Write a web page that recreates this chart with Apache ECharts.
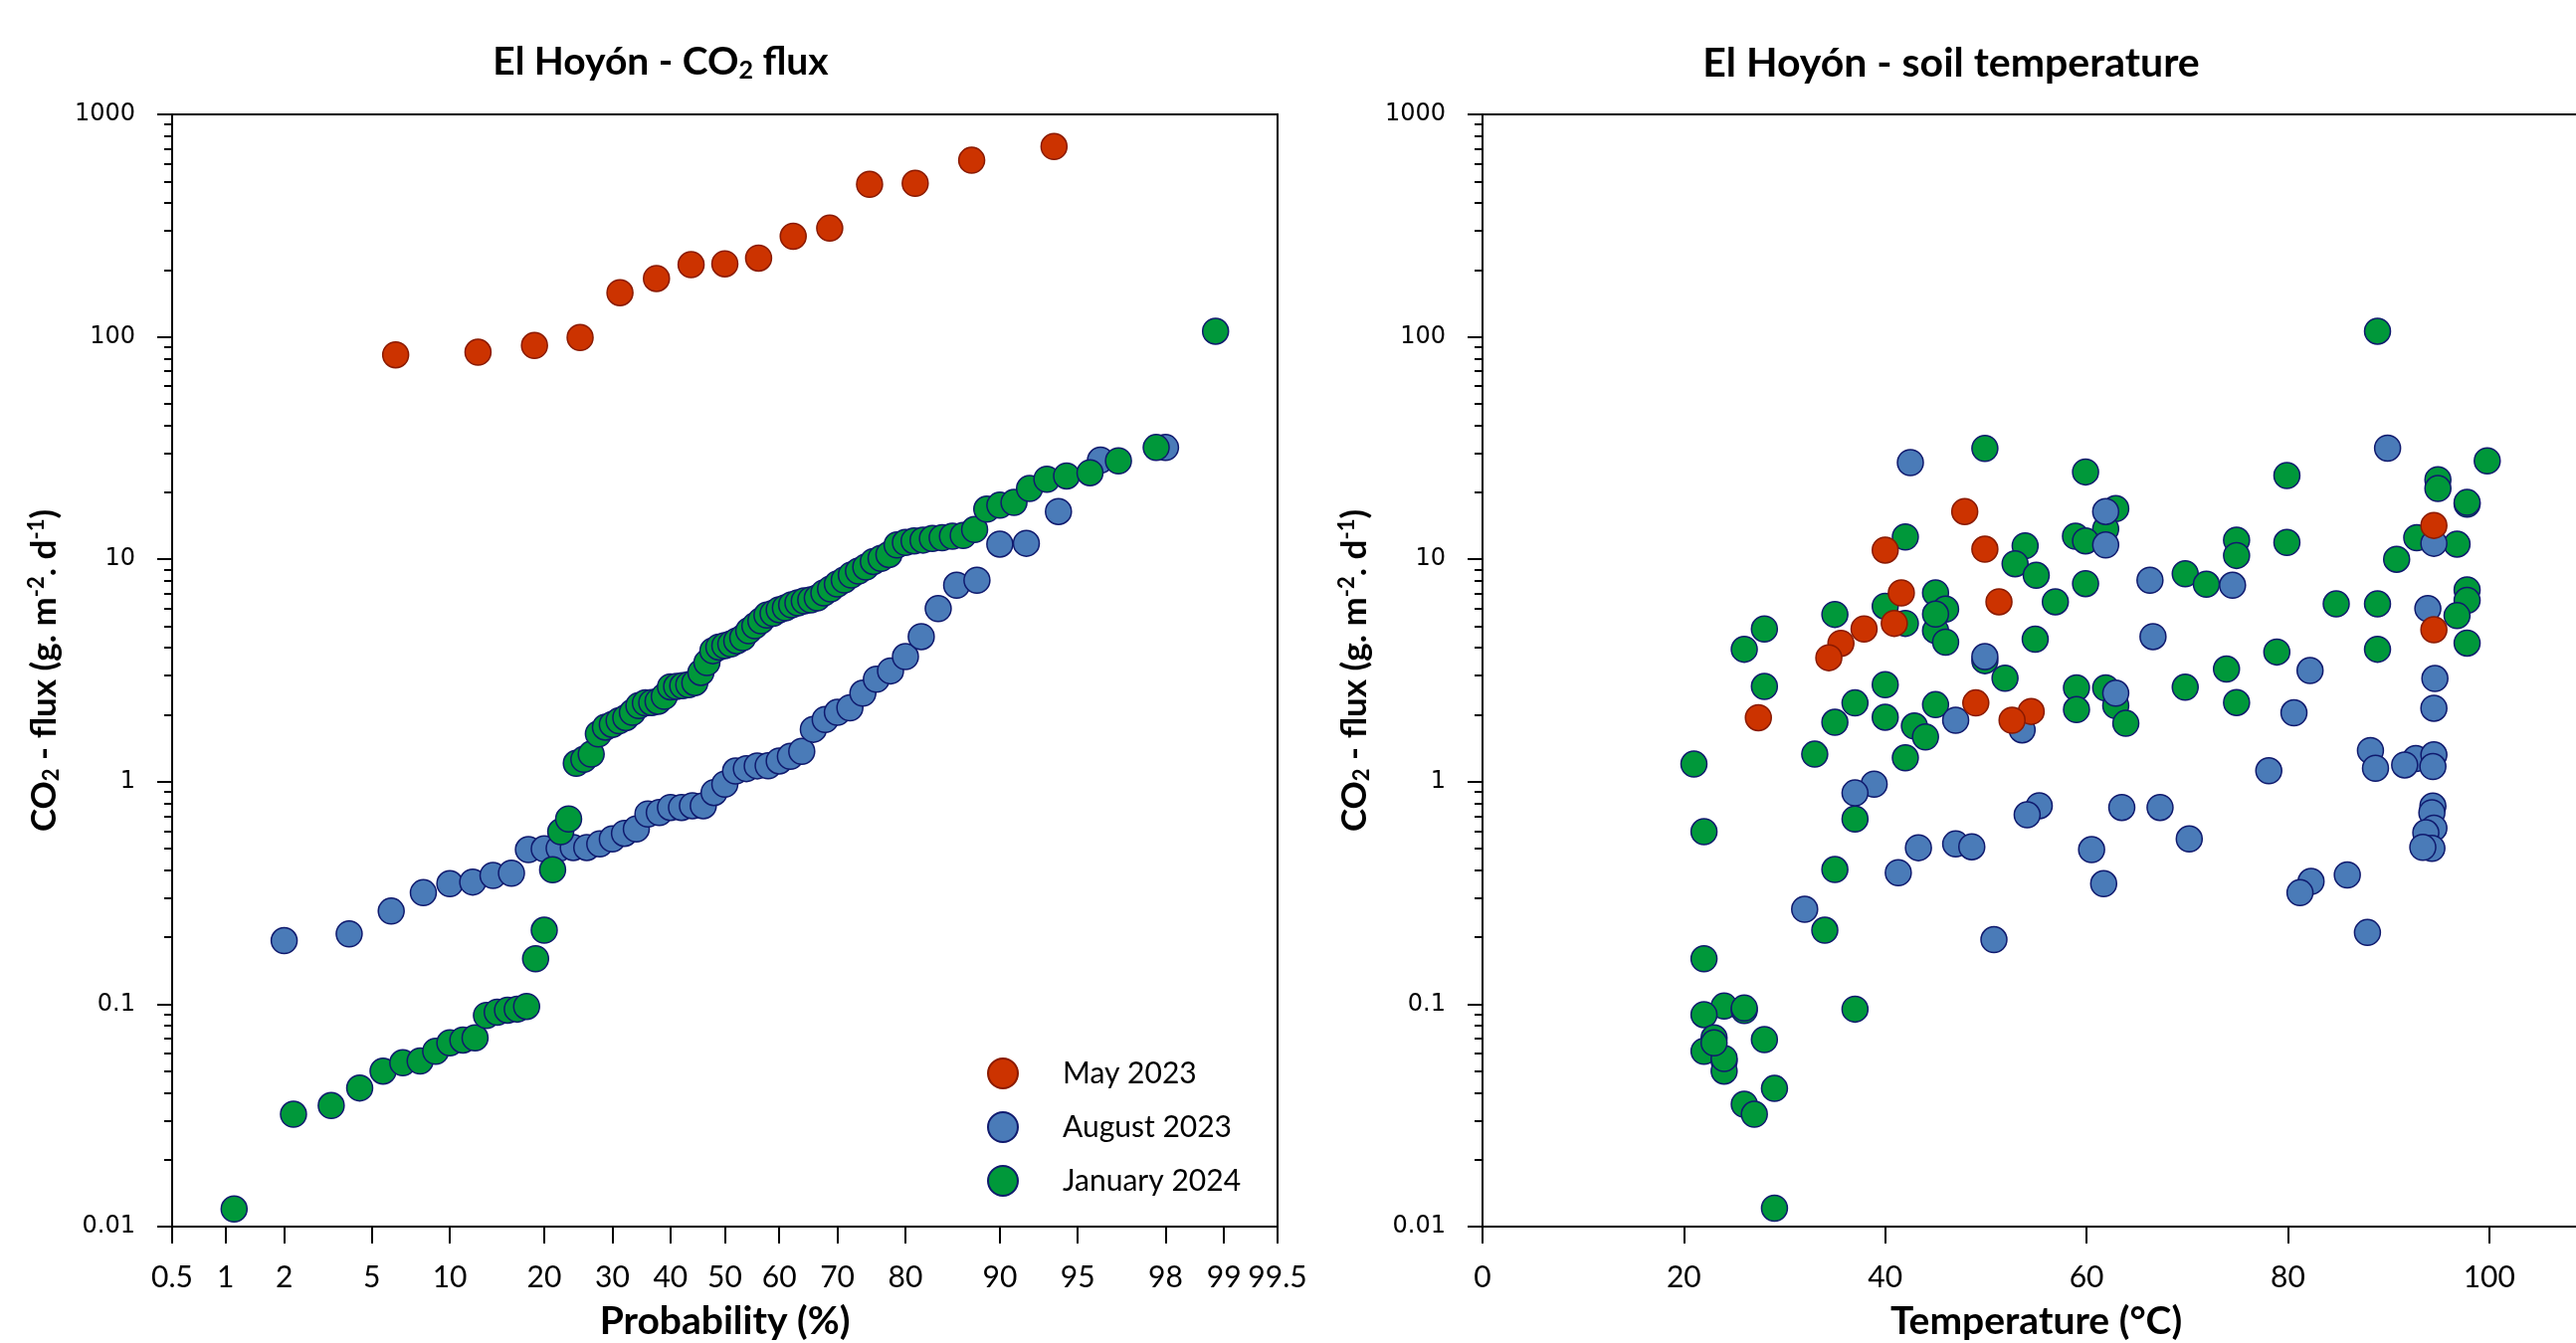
<!DOCTYPE html>
<html><head><meta charset="utf-8">
<script src="https://cdn.jsdelivr.net/npm/echarts@6/dist/echarts.min.js"></script>
<style>html,body{margin:0;padding:0;background:#fff}#c{width:2589px;height:1350px}</style>
</head><body><div id="c"></div>
<script>
// ---------- Left chart: probability plot ----------
const probTicks = [0.5, 1, 2, 5, 10, 20, 30, 40, 50, 60, 70, 80, 90, 95, 98, 99, 99.5];
const fluxTicks = [0.01, 0.1, 1, 10, 100, 1000];
const fluxMinor = [0.02,0.03,0.04,0.05,0.06,0.07,0.08,0.09,0.2,0.3,0.4,0.5,0.6,0.7,0.8,0.9,2,3,4,5,6,7,8,9,20,30,40,50,60,70,80,90,200,300,400,500,600,700,800,900];
const tempTicks = [0, 20, 40, 60, 80, 100];

const mayProb = [6.25, 12.5, 18.75, 25, 31.25, 37.5, 43.75, 50, 56.25, 62.5, 68.75, 75, 81.25, 87.5, 93.75];
const mayFlux = [83.0, 85.3, 91.4, 99.3, 158, 183, 211, 213, 226, 283, 308, 485, 490, 622, 717];

const augProb = [2,4,6,8,10,12,14,16,18,20,22,24,26,28,30,32,34,36,38,40,42,44,46,48,50,52,54,56,58,60,62,64,66,68,70,72,74,76,78,80,82,84,86,88,90,92,94,96,98];
const augFlux = [0.193,0.207,0.262,0.317,0.348,0.354,0.379,0.388,0.495,0.499,0.502,0.506,0.506,0.525,0.553,0.586,0.613,0.716,0.727,0.766,0.766,0.78,0.78,0.894,0.975,1.117,1.145,1.178,1.18,1.24,1.30,1.37,1.72,1.905,2.05,2.15,2.50,2.89,3.15,3.65,4.49,6.0,7.64,8.05,11.7,11.8,16.4,27.9,31.8];

const janProb = [1.11,2.22,3.33,4.44,5.56,6.67,7.78,8.89,10,11.11,12.22,13.33,14.44,15.56,16.67,17.78,18.89,20,21.11,22.22,23.33,24.44,25.56,26.67,27.78,28.89,30,31.11,32.22,33.33,34.44,35.56,36.67,37.78,38.89,40,41.11,42.22,43.33,44.44,45.56,46.67,47.78,48.89,50,51.11,52.22,53.33,54.44,55.56,56.67,57.78,58.89,60,61.11,62.22,63.33,64.44,65.56,66.67,67.78,68.89,70,71.11,72.22,73.33,74.44,75.56,76.67,77.78,78.89,80,81.11,82.22,83.33,84.44,85.56,86.67,87.78,88.89,90,91.11,92.22,93.33,94.44,95.56,96.67,97.78,98.89];
const janFlux = [0.012,0.032,0.035,0.042,0.050,0.0545,0.0555,0.0614,0.067,0.069,0.0705,0.089,0.092,0.094,0.095,0.0977,0.16,0.215,0.402,0.596,0.68,
 1.21,1.26,1.33,1.64,1.76,1.81,1.88,1.94,2.05,2.20,2.26,2.27,2.30,2.42,2.67,2.68,2.70,2.73,2.79,
 3.10,3.43,3.88,4.03,4.09,4.16,4.30,4.44,4.77,5.02,5.29,5.61,5.71,5.93,6.05,6.24,6.37,6.50,6.57,6.70,
 7.06,7.36,7.74,8.07,8.50,8.85,9.23,9.77,10.1,10.5,11.6,11.9,12.1,12.2,12.4,12.5,12.7,12.8,13.6,
 16.8,17.5,18.0,20.8,22.9,23.7,24.5,27.7,31.8,106];

// ---------- Right chart: flux vs soil temperature ----------
const mayTemp = [47.9, 40.0, 49.9, 51.3, 41.6, 40.9, 37.9, 35.6, 34.4, 27.4, 49.0, 54.5, 52.6, 94.5, 94.5];
const mayFluxT = [16.4, 11.0, 11.1, 6.44, 7.06, 5.15, 4.86, 4.19, 3.61, 1.94, 2.26, 2.07, 1.89, 14.2, 4.82];

const augTemp = [42.5,61.9,61.9,66.3,49.9,62.9,47.0,53.6,38.9,37.0,55.3,54.1,63.5,67.3,70.2,43.3,47.0,48.6,60.5,61.7,41.3,32.0,89.9,94.5,93.9,82.2,80.6,94.6,94.5,78.1,88.2,88.7,92.7,91.6,94.5,94.4,94.4,94.3,94.5,93.7,94.3,93.4,82.3,81.2,85.9,87.9,74.5,66.6,50.8];
const augFluxT = [27.2,16.4,11.6,8.05,3.65,2.50,1.89,1.71,0.975,0.89,0.78,0.71,0.766,0.766,0.553,0.505,0.525,0.51,0.495,0.348,0.39,0.267,31.6,11.8,6.0,3.16,2.04,2.91,2.14,1.12,1.38,1.15,1.27,1.19,1.32,1.17,0.777,0.725,0.618,0.59,0.502,0.507,0.356,0.317,0.381,0.21,7.64,4.49,0.195];

const janTemp = [49.9,59.9,62.9,61.9,58.9,59.9,42.0,53.9,52.9,55.0,59.9,56.9,69.8,40.0,45.0,46.0,45.0,46.0,42.0,35.0,28.0,26.0,54.9,49.9,51.9,59.0,61.9,62.9,59.0,63.9,69.8,28.0,40.0,37.0,35.0,40.0,45.0,42.9,44.0,42.0,33.0,21.0,37.0,22.0,35.0,34.0,22.0,37.0,24.0,26.0,26.0,22.0,23.0,22.0,28.0,24.0,24.0,24.0,29.0,26.0,27.0,29.0,88.9,99.8,79.9,94.9,94.9,97.8,97.8,92.8,96.8,90.8,79.9,84.8,88.9,97.8,97.8,96.8,97.8,88.9,78.9,74.9,74.9,71.9,73.9,74.9,23.0,45.0];
const janFluxT = [31.5,24.7,16.9,13.7,12.7,12.1,12.6,11.5,9.55,8.47,7.77,6.44,8.61,6.15,7.06,5.97,4.78,4.24,5.15,5.65,4.86,3.94,4.37,3.5,2.92,2.64,2.64,2.20,2.11,1.83,2.66,2.68,2.73,2.26,1.85,1.95,2.22,1.78,1.59,1.28,1.33,1.20,0.68,0.596,0.403,0.215,0.16,0.095,0.098,0.0937,0.096,0.0897,0.0705,0.0614,0.0693,0.0554,0.050,0.057,0.0418,0.0355,0.032,0.0121,106,27.7,23.8,22.8,20.8,17.7,18.0,12.5,11.7,10.0,11.9,6.3,6.3,7.29,6.53,5.58,4.20,3.94,3.83,12.2,10.4,7.72,3.21,2.27,0.067,5.67];

// inverse of the standard normal CDF (probability-paper scale)
function probToZ(pct) {
  const p = pct / 100;
  const a = [-3.969683028665376e+01, 2.209460984245205e+02, -2.759285104469687e+02, 1.383577518672690e+02, -3.066479806614716e+01, 2.506628277459239e+00];
  const b = [-5.447609879822406e+01, 1.615858368580409e+02, -1.556989798598866e+02, 6.680131188771972e+01, -1.328068155288572e+01];
  const c = [-7.784894002430293e-03, -3.223964580411365e-01, -2.400758277161838e+00, -2.549671010229583e+00, 4.374664141464968e+00, 2.938163982698783e+00];
  const d = [7.784695709041462e-03, 3.224671290700398e-01, 2.445134137142996e+00, 3.754408661907416e+00];
  const pl = 0.02425;
  let q, r;
  if (p < pl) {
    q = Math.sqrt(-2 * Math.log(p));
    return (((((c[0]*q+c[1])*q+c[2])*q+c[3])*q+c[4])*q+c[5]) / ((((d[0]*q+d[1])*q+d[2])*q+d[3])*q+1);
  } else if (p <= 1 - pl) {
    q = p - 0.5; r = q * q;
    return (((((a[0]*r+a[1])*r+a[2])*r+a[3])*r+a[4])*r+a[5])*q / (((((b[0]*r+b[1])*r+b[2])*r+b[3])*r+b[4])*r+1);
  } else {
    q = Math.sqrt(-2 * Math.log(1 - p));
    return -(((((c[0]*q+c[1])*q+c[2])*q+c[3])*q+c[4])*q+c[5]) / ((((d[0]*q+d[1])*q+d[2])*q+d[3])*q+1);
  }
}
const zTicks = probTicks.map(probToZ);
function zLabel(v) {
  let best = 0, bd = Infinity;
  zTicks.forEach((z, i) => { const dd = Math.abs(z - v); if (dd < bd) { bd = dd; best = i; } });
  return String(probTicks[best]);
}

const FONT = 'Lato, "Open Sans", sans-serif';
const YFONT = '"DejaVu Sans", Verdana, sans-serif';
const BORDER = '#101a6e';
const styles = {
  'May 2023': { color: '#cc3300', borderColor: '#8a1a00', borderWidth: 1.5, opacity: 1 },
  'August 2023': { color: '#4a7bb8', borderColor: BORDER, borderWidth: 1.5, opacity: 1 },
  'January 2024': { color: '#00983a', borderColor: BORDER, borderWidth: 1.5, opacity: 1 }
};

const nameRich = {
  sub: { fontFamily: FONT, fontWeight: 'bold', fontSize: 22, color: '#000', padding: [15, 0, 0, 0] },
  sup: { fontFamily: FONT, fontWeight: 'bold', fontSize: 22, color: '#000', padding: [0, 0, 15, 0] }
};
const titleRich = {
  sub: { fontFamily: FONT, fontWeight: 'bold', fontSize: 25, color: '#000', padding: [16, 0, 0, 0] }
};

function yAxisMain(gridIndex) {
  return {
    type: 'log', logBase: 10, gridIndex, min: 0.01, max: 1000, position: 'left',
    name: 'CO{sub|2} - flux (g. m{sup|-2}. d{sup|-1})',
    nameLocation: 'middle', nameGap: 110, nameRotate: 90,
    nameTextStyle: { fontFamily: FONT, fontWeight: 'bold', fontSize: 35, color: '#000', rich: nameRich },
    axisLine: { show: true, onZero: false, lineStyle: { color: '#000', width: 2 } },
    axisTick: { show: true, inside: false, length: 15, lineStyle: { color: '#000', width: 2 }, customValues: fluxTicks },
    axisLabel: { show: true, margin: 37, fontFamily: YFONT, fontSize: 24, color: '#000', customValues: fluxTicks,
      formatter: v => String(+v.toPrecision(3)) },
    splitLine: { show: false }, minorTick: { show: false }
  };
}
function yAxisMinor(gridIndex) {
  return {
    type: 'log', logBase: 10, gridIndex, min: 0.01, max: 1000, position: 'left',
    axisLine: { show: false, onZero: false },
    axisTick: { show: true, inside: false, length: 8, lineStyle: { color: '#000', width: 2 }, customValues: fluxMinor },
    axisLabel: { show: false }, splitLine: { show: false }
  };
}

function scatter(name, xi, yi, xs, ys, transform) {
  return {
    type: 'scatter', name, xAxisIndex: xi, yAxisIndex: yi,
    symbol: 'circle', symbolSize: 26,
    itemStyle: styles[name],
    emphasis: { disabled: true },
    data: xs.map((x, i) => [transform ? transform(x) : x, ys[i]])
  };
}

const chart = echarts.init(document.getElementById('c'), null, { renderer: 'canvas' });
chart.setOption({
  backgroundColor: '#fff',
  animation: false,
  title: [
    { text: 'El Hoyón - CO{sub|2} flux', left: 664, top: 42, textAlign: 'center', padding: 0,
      textStyle: { fontFamily: FONT, fontWeight: 'bold', fontSize: 39, color: '#000', rich: titleRich } },
    { text: 'El Hoyón - soil temperature', left: 1961, top: 43, textAlign: 'center', padding: 0,
      textStyle: { fontFamily: FONT, fontWeight: 'bold', fontSize: 41, color: '#000' } }
  ],
  legend: {
    show: true, orient: 'vertical', left: 992, top: 1063, padding: 0,
    itemWidth: 30, itemHeight: 30, itemGap: 22, icon: 'circle',
    selectedMode: false,
    data: ['May 2023', 'August 2023', 'January 2024'],
    textStyle: { fontFamily: FONT, fontSize: 30, color: '#000', padding: [0, 0, 0, 40] }
  },
  grid: [
    { left: 173, top: 115, width: 1111, height: 1118, show: true, borderColor: '#000', borderWidth: 2, backgroundColor: 'transparent', containLabel: false, outerBoundsMode: 'none' },
    { left: 1490, top: 115, width: 1113, height: 1118, show: true, borderColor: '#000', borderWidth: 2, backgroundColor: 'transparent', containLabel: false, outerBoundsMode: 'none' }
  ],
  xAxis: [
    { type: 'value', gridIndex: 0, min: probToZ(0.5), max: probToZ(99.5),
      name: 'Probability (%)', nameLocation: 'middle', nameGap: 76,
      nameTextStyle: { fontFamily: FONT, fontWeight: 'bold', fontSize: 39, color: '#000' },
      axisLine: { show: true, onZero: false, lineStyle: { color: '#000', width: 2 } },
      axisTick: { show: true, inside: false, length: 17, lineStyle: { color: '#000', width: 2 }, customValues: zTicks },
      axisLabel: { show: true, margin: 36, fontFamily: FONT, fontSize: 30, color: '#000', customValues: zTicks, formatter: zLabel, hideOverlap: false },
      splitLine: { show: false } },
    { type: 'value', gridIndex: 1, min: 0, max: 110,
      name: 'Temperature (°C)', nameLocation: 'middle', nameGap: 76,
      nameTextStyle: { fontFamily: FONT, fontWeight: 'bold', fontSize: 39, color: '#000' },
      axisLine: { show: true, onZero: false, lineStyle: { color: '#000', width: 2 } },
      axisTick: { show: true, inside: false, length: 17, lineStyle: { color: '#000', width: 2 }, customValues: tempTicks },
      axisLabel: { show: true, margin: 36, fontFamily: FONT, fontSize: 30, color: '#000', customValues: tempTicks, hideOverlap: false },
      splitLine: { show: false } }
  ],
  yAxis: [yAxisMain(0), yAxisMinor(0), yAxisMain(1), yAxisMinor(1)],
  series: [
    scatter('May 2023', 0, 0, mayProb, mayFlux, probToZ),
    scatter('August 2023', 0, 0, augProb, augFlux, probToZ),
    scatter('January 2024', 0, 0, janProb, janFlux, probToZ),
    scatter('January 2024', 1, 2, janTemp, janFluxT),
    scatter('August 2023', 1, 2, augTemp, augFluxT),
    scatter('May 2023', 1, 2, mayTemp, mayFluxT)
  ]
});
</script>
</body></html>
